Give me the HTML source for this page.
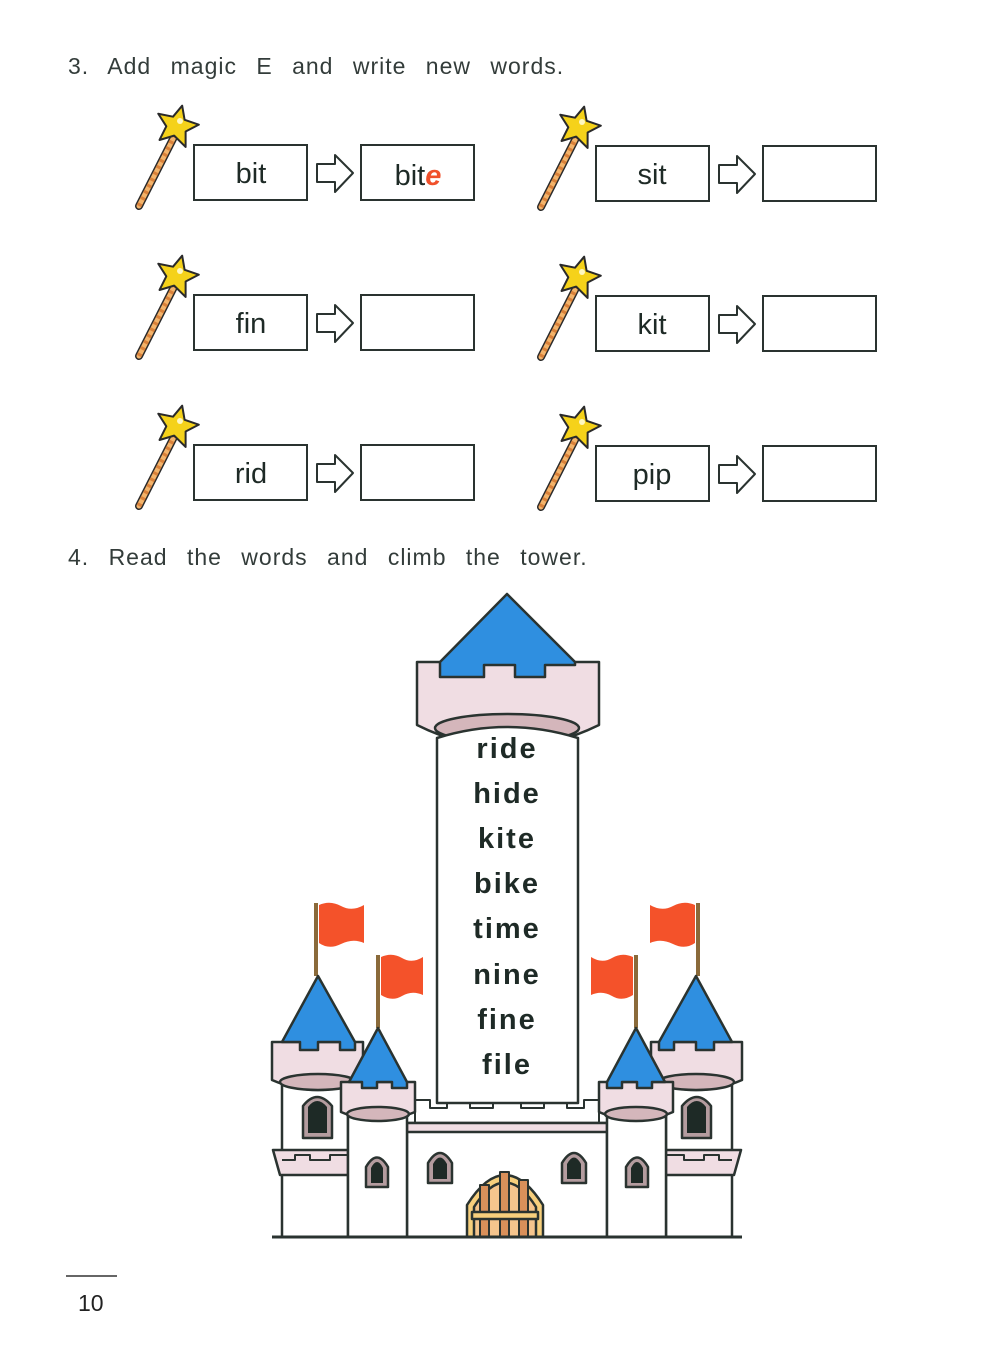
<!DOCTYPE html>
<html><head><meta charset="utf-8"><style>
html,body{margin:0;padding:0;background:#fff}
svg{display:block}
.t{font-family:"Liberation Sans",sans-serif;fill:#333c3a;font-size:23px;word-spacing:12px;letter-spacing:1px}
.b{font-family:"Liberation Sans",sans-serif;fill:#1e2a26;font-size:29px;text-anchor:middle}
.w{font-family:"Liberation Sans",sans-serif;fill:#1e2a26;font-size:29px;font-weight:bold;text-anchor:middle;letter-spacing:2px}
</style></head><body>
<svg width="1000" height="1366" viewBox="0 0 1000 1366" xmlns="http://www.w3.org/2000/svg">
<defs>
<g id="wand">
 <line x1="-55" y1="61" x2="-20" y2="-8" stroke="#2a2a2a" stroke-width="8" stroke-linecap="round"/>
 <line x1="-55" y1="61" x2="-20" y2="-8" stroke="#f3b36a" stroke-width="5" stroke-linecap="round"/>
 <line x1="-55" y1="61" x2="-20" y2="-8" stroke="#d9813a" stroke-width="5" stroke-dasharray="3 4"/>
 <polygon points="-17,-40 -11,-27 4,-26 -7,-16 -3,-1 -17,-9 -30,-1 -27,-16 -38,-26 -23,-27" fill="#f5d21a" stroke="#2a2a2a" stroke-width="2" stroke-linejoin="round" transform="rotate(15 -17 -20)"/>
 <circle cx="-14" cy="-24" r="3" fill="#fff8c0"/>
</g>
<g id="row">
 <use href="#wand"/>
 <rect x="0" y="0" width="113" height="55" fill="#fff" stroke="#2a3330" stroke-width="2"/>
 <polygon points="123,19 141,19 141,10 159,28 141,47 141,37 123,37" fill="#fff" stroke="#2a3330" stroke-width="2" stroke-linejoin="round"/>
 <rect x="167" y="0" width="113" height="55" fill="#fff" stroke="#2a3330" stroke-width="2"/>
</g>
<g id="half" stroke="#2a3330" stroke-width="2.5" stroke-linejoin="round">
 <!-- outer tower -->
 <rect x="282" y="1080" width="66" height="157" fill="#fff"/>
 <polygon points="273,1150 348,1150 348,1175 280,1175" fill="#f0dde3"/>
 <polyline points="282,1160 295,1160 295,1155 310,1155 310,1160 330,1160 330,1155 348,1155" fill="none" stroke-width="2"/>
 <line x1="316" y1="903" x2="316" y2="976" stroke="#8a6a3a" stroke-width="4"/>
 <path d="M319,905 Q330,900 341,906 T364,905 L364,943 Q353,938 341,944 T319,943 Z" fill="#f4522a" stroke="none"/>
 <path d="M272,1042 L363,1042 L363,1080 Q318,1100 272,1080 Z" fill="#f0dde3"/>
 <ellipse cx="318" cy="1082" rx="38" ry="8" fill="#d4b6bb"/>
 <polygon points="318,976 282,1042 300,1042 300,1050 318,1050 318,1042 340,1042 340,1050 355,1050 355,1042" fill="#2f8fe0"/>
 <path d="M303,1138 L303,1106 Q317,1088 332,1106 L332,1138 Z" fill="#b49c9f"/>
 <path d="M308,1133 L308,1107 Q317,1095 327,1107 L327,1133 Z" fill="#1e2a26" stroke="none"/>
 <!-- wall battlement -->
 <polyline points="415,1123 415,1100 430,1100 430,1108 447,1108 447,1100 470,1100 470,1108 493,1108 493,1100 507,1100" fill="none" stroke-width="2"/>
 <path d="M428,1183 L428,1163 Q440,1143 452,1163 L452,1183 Z" fill="#b49c9f"/>
 <path d="M433,1179 L433,1164 Q440,1151 447,1164 L447,1179 Z" fill="#1e2a26" stroke="none"/>
 <!-- inner tower -->
 <rect x="348" y="1110" width="59" height="127" fill="#fff"/>
 <line x1="378" y1="955" x2="378" y2="1028" stroke="#8a6a3a" stroke-width="4"/>
 <path d="M381,957 Q392,952 402,958 T423,957 L423,995 Q412,990 402,996 T381,995 Z" fill="#f4522a" stroke="none"/>
 <path d="M341,1082 L415,1082 L415,1112 Q378,1128 341,1112 Z" fill="#f0dde3"/>
 <ellipse cx="378" cy="1114" rx="31" ry="7" fill="#d4b6bb"/>
 <polygon points="378,1028 349,1082 362,1082 362,1088 377,1088 377,1082 392,1082 392,1088 407,1088 407,1082" fill="#2f8fe0"/>
 <path d="M366,1187 L366,1167 Q377,1148 388,1167 L388,1187 Z" fill="#b49c9f"/>
 <path d="M371,1183 L371,1168 Q377,1156 383,1168 L383,1183 Z" fill="#1e2a26" stroke="none"/>
</g>
</defs>
<text class="t" x="68" y="74">3. Add magic E and write new words.</text>
<use href="#row" transform="translate(194,145)"/>
<use href="#row" transform="translate(596,146)"/>
<use href="#row" transform="translate(194,295)"/>
<use href="#row" transform="translate(596,296)"/>
<use href="#row" transform="translate(194,445)"/>
<use href="#row" transform="translate(596,446)"/>
<text class="b" x="251" y="183">bit</text>
<text class="b" x="418" y="185">bit<tspan fill="#f0502a" font-weight="bold" font-style="italic">e</tspan></text>
<text class="b" x="652" y="184">sit</text>
<text class="b" x="251" y="333">fin</text>
<text class="b" x="652" y="334">kit</text>
<text class="b" x="251" y="483">rid</text>
<text class="b" x="652" y="484">pip</text>
<text class="t" x="68" y="565">4. Read the words and climb the tower.</text>

<!-- castle -->
<g stroke="#2a3330" stroke-width="2.5" stroke-linejoin="round">
 <rect x="407" y="1123" width="200" height="114" fill="#fff"/>
 <rect x="407" y="1123" width="200" height="9" fill="#f0dde3"/>
</g>
<use href="#half"/>
<use href="#half" transform="translate(1014,0) scale(-1,1)"/>
<g stroke="#2a3330" stroke-width="2.5" stroke-linejoin="round">
 <path d="M417,662 L599,662 L599,725 Q507,770 417,725 Z" fill="#f0dde3"/>
 <ellipse cx="507" cy="728" rx="72" ry="14" fill="#d4b6bb"/>
 <path d="M437,1103 L437,738 Q507,716 578,738 L578,1103 Z" fill="#fff"/>
 <polygon points="507,594 440,662 440,677 484,677 484,665 515,665 515,677 545,677 545,665 575,665 575,662" fill="#2f8fe0"/>
 <path d="M467,1237 L467,1205 Q505,1145 543,1205 L543,1237 Z" fill="#f7cf7c"/>
 <path d="M474,1237 L474,1207 Q505,1158 536,1207 L536,1237 Z" fill="#f5c58d"/>
 <g stroke-width="2">
 <rect x="480" y="1185" width="9" height="52" fill="#d9905a"/>
 <rect x="500" y="1172" width="9" height="65" fill="#d9905a"/>
 <rect x="519" y="1180" width="9" height="57" fill="#d9905a"/>
 </g>
 <rect x="472" y="1212" width="66" height="7" fill="#f7cf7c"/>
 <line x1="272" y1="1237" x2="742" y2="1237" stroke-width="3"/>
</g>
<text class="w" x="507" y="758">ride</text>
<text class="w" x="507" y="803">hide</text>
<text class="w" x="507" y="848">kite</text>
<text class="w" x="507" y="893">bike</text>
<text class="w" x="507" y="938">time</text>
<text class="w" x="507" y="984">nine</text>
<text class="w" x="507" y="1029">fine</text>
<text class="w" x="507" y="1074">file</text>

<line x1="66" y1="1276" x2="117" y2="1276" stroke="#333" stroke-width="1.5"/>
<text x="78" y="1311" font-family="Liberation Sans,sans-serif" font-size="23" fill="#222">10</text>
</svg>
</body></html>
